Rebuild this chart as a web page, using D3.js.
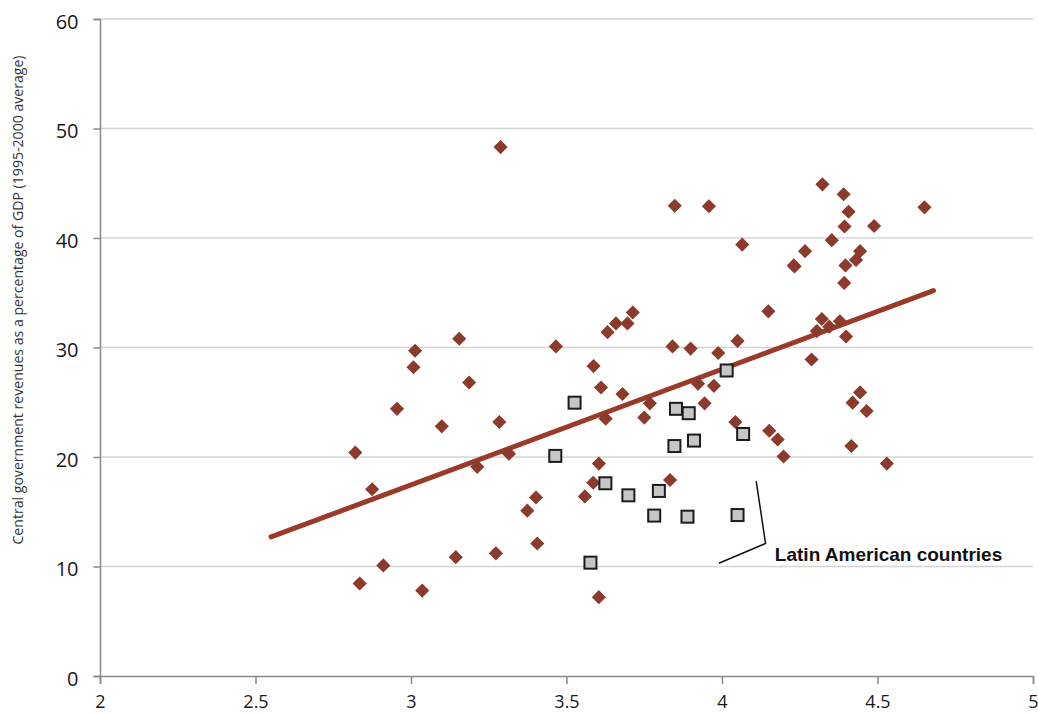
<!DOCTYPE html>
<html>
<head>
<meta charset="utf-8">
<script src="https://cdn.jsdelivr.net/npm/d3@7/dist/d3.min.js"></script>
<style>
  html, body { margin: 0; padding: 0; background: #fff; }
  svg { display: block; }
</style>
</head>
<body>
<svg id="chart" width="1038" height="715"></svg>
<script>
// Log GDP per capita (x) vs central government revenue share of GDP (y)
const otherX = [3.288, 3.155, 3.013, 3.008, 3.187, 2.955, 3.099, 3.284, 2.821, 2.875,
  3.213, 3.315, 3.402, 3.374, 3.406, 3.273, 3.144, 2.911, 2.835, 3.036,
  3.848, 3.958, 4.065, 4.231, 4.149, 3.713, 3.659, 3.696, 3.632, 3.466,
  3.841, 3.899, 4.050, 3.988, 3.587, 3.611, 3.680, 3.923, 3.974, 3.768,
  3.944, 3.626, 3.750, 4.043, 4.152, 4.179, 4.198, 3.604, 3.586, 3.833,
  3.559, 3.604, 4.323, 4.391, 4.407, 4.651, 4.394, 4.489, 4.353, 4.267,
  4.233, 4.444, 4.431, 4.397, 4.393, 4.321, 4.379, 4.305, 4.345, 4.399,
  4.288, 4.444, 4.420, 4.465, 4.416, 4.530];
const otherY = [48.3, 30.8, 29.7, 28.2, 26.8, 24.4, 22.8, 23.2, 20.4, 17.05,
  19.1, 20.3, 16.3, 15.1, 12.1, 11.2, 10.85, 10.1, 8.45, 7.8,
  42.95, 42.9, 39.4, 37.5, 33.3, 33.2, 32.2, 32.2, 31.4, 30.1,
  30.1, 29.9, 30.6, 29.5, 28.3, 26.35, 25.75, 26.7, 26.5, 24.9,
  24.9, 23.5, 23.6, 23.2, 22.4, 21.6, 20.05, 19.4, 17.65, 17.9,
  16.4, 7.2, 44.9, 44.0, 42.4, 42.8, 41.05, 41.1, 39.8, 38.8,
  37.4, 38.8, 38.0, 37.5, 35.9, 32.6, 32.4, 31.5, 31.9, 31.0,
  28.9, 25.9, 24.96, 24.2, 21.0, 19.4];

// Latin American countries
const latamX = [4.015, 3.526, 3.852, 3.893, 4.068, 3.910, 3.847, 3.464, 3.625, 3.797,
  3.699, 3.782, 3.889, 4.050, 3.577];
const latamY = [27.9, 24.96, 24.4, 24.0, 22.1, 21.5, 21.0, 20.1, 17.6, 16.9,
  16.5, 14.65, 14.55, 14.7, 10.35];

// Fitted trend line endpoints
const trendX = [2.55, 4.68];
const trendY = [12.7, 35.2];

const xTicks = [2, 2.5, 3, 3.5, 4, 4.5, 5];
const yTicks = [0, 10, 20, 30, 40, 50, 60];

const yTitle = "Central government revenues as a percentage of GDP (1995-2000 average)";
const noteText = "Latin American countries";
// Bracket pointing at the Latin American cluster, in data units
const bracketX = [3.99, 4.14, 4.11];
const bracketY = [10.3, 12.1, 17.8];

const svg = d3.select("#chart");
const plotLeft = 100, plotRight = 1033, plotTop = 19, plotBottom = 676;

const x = d3.scaleLinear().domain([2, 5]).range([plotLeft, plotRight]);
const y = d3.scaleLinear().domain([0, 60]).range([plotBottom, plotTop]);

const font = "'Open Sans', sans-serif";
const narrowFont = "'Liberation Sans Narrow', 'Open Sans', sans-serif";

// Horizontal gridlines
svg.append("g")
  .selectAll("line")
  .data(yTicks.filter(d => d > 0))
  .join("line")
  .attr("x1", plotLeft).attr("x2", plotRight)
  .attr("y1", d => y(d)).attr("y2", d => y(d))
  .attr("stroke", "#d4d4d4")
  .attr("stroke-width", 1.5);

// Y axis
const yAxis = svg.append("g")
  .attr("transform", `translate(${plotLeft},0)`)
  .call(d3.axisLeft(y).tickValues(yTicks).tickSize(6.5).tickPadding(15).tickFormat(d3.format("d")));
yAxis.select(".domain").attr("stroke", "#8a8a8a").attr("stroke-width", 1.5);
yAxis.selectAll(".tick line").attr("stroke", "#8a8a8a").attr("stroke-width", 1.5);
yAxis.selectAll("text")
  .attr("font-family", font).attr("font-size", 20).attr("fill", "#1a1a1a")
  .attr("dy", "0.45em");

// X axis
const xAxis = svg.append("g")
  .attr("transform", `translate(0,${plotBottom})`)
  .call(d3.axisBottom(x).tickValues(xTicks).tickSize(8).tickPadding(11).tickFormat(d => String(d)));
xAxis.select(".domain").attr("stroke", "#8a8a8a").attr("stroke-width", 1.5);
xAxis.selectAll(".tick line").attr("stroke", "#8a8a8a").attr("stroke-width", 1.5);
xAxis.selectAll("text")
  .attr("font-family", narrowFont).attr("font-size", 18).attr("fill", "#1a1a1a");

// Y axis title
svg.append("text")
  .attr("transform", `translate(22.5,300) rotate(-90)`)
  .attr("text-anchor", "middle")
  .attr("font-family", font)
  .attr("font-size", 14.1)
  .attr("fill", "#333")
  .text(yTitle);

const markColor = "#8b3a2b";

// Trend line
svg.append("line")
  .attr("x1", x(trendX[0])).attr("y1", y(trendY[0]))
  .attr("x2", x(trendX[1])).attr("y2", y(trendY[1]))
  .attr("stroke", "#9a3a29")
  .attr("stroke-width", 5)
  .attr("stroke-linecap", "round");

// Diamonds: all other countries
const other = otherX.map((v, i) => ({ x: v, y: otherY[i] }));
svg.append("g")
  .selectAll("rect")
  .data(other)
  .join("rect")
  .attr("x", -5).attr("y", -5)
  .attr("width", 10).attr("height", 10)
  .attr("transform", d => `translate(${x(d.x)},${y(d.y)}) rotate(45)`)
  .attr("fill", markColor);

// Squares: Latin American countries
const latam = latamX.map((v, i) => ({ x: v, y: latamY[i] }));
svg.append("g")
  .selectAll("rect")
  .data(latam)
  .join("rect")
  .attr("x", d => x(d.x) - 6).attr("y", d => y(d.y) - 6)
  .attr("width", 12).attr("height", 12)
  .attr("fill", "#c6c6c6")
  .attr("stroke", "#1c1c1c")
  .attr("stroke-width", 2);

// Annotation bracket and label
svg.append("path")
  .attr("d", d3.line().x(d => x(d[0])).y(d => y(d[1]))(bracketX.map((v, i) => [v, bracketY[i]])))
  .attr("fill", "none")
  .attr("stroke", "#111")
  .attr("stroke-width", 1.5);

svg.append("text")
  .attr("x", x(4.17)).attr("y", y(10.5))
  .attr("font-family", "'Liberation Sans', Arial, sans-serif")
  .attr("font-weight", "bold")
  .attr("font-size", 19)
  .attr("fill", "#111")
  .text(noteText);
</script>
</body>
</html>
